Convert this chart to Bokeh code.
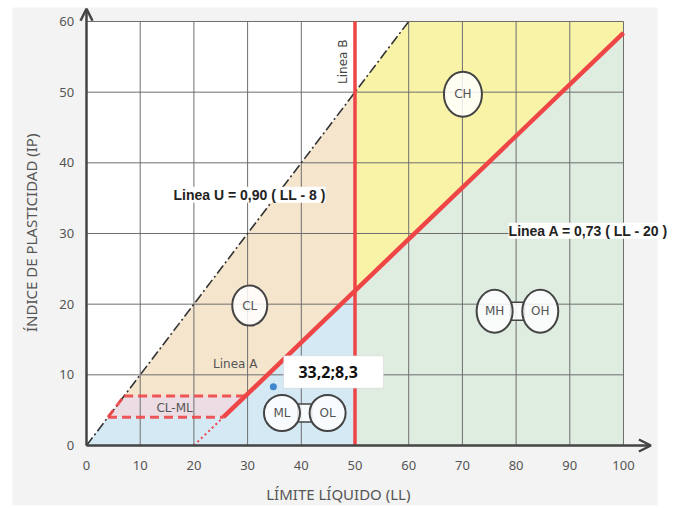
import numpy as np
from bokeh.plotting import figure
from bokeh.models import Range1d, Label, Arrow, OpenHead, BoxAnnotation, ColumnDataSource
from bokeh.embed import file_html
from bokeh.resources import INLINE
from bokeh.core.properties import value

# ---------------- data ----------------
ll_ticks = list(range(0, 101, 10))
ip_ticks = list(range(0, 61, 10))

line_a_slope = 0.73
line_a_offset = 20.0
line_a_end_ll = 100.0
line_u_ll = [0.0, 60.0]      # dash-dot "Linea U" as drawn
line_u_ip = [0.0, 60.0]
line_b_ll = 50.0
clml_ip = [4.0, 7.0]

zone_names = ["CL", "CH", "ML", "OL", "MH", "OH"]
zone_ll = [30.4, 70.1, 36.4, 44.9, 76.0, 84.5]
zone_ip = [19.8, 49.7, 4.6, 4.6, 19.0, 19.0]

point_ll = [34.8]
point_ip = [8.3]
point_text = "33,2;8,3"

text_u = "Linea U = 0,90 ( LL - 8 )"
text_a = "Linea A = 0,73 ( LL - 20 )"
text_b = "Linea B"
text_a_small = "Linea A"
text_clml = "CL-ML"
x_title = "LÍMITE LÍQUIDO (LL)"
y_title = "ÍNDICE DE PLASTICIDAD (IP)"

# ---------------- geometry from the lines ----------------
def a_ip(ll):
    return line_a_slope * (np.asarray(ll, dtype=float) - line_a_offset)

def u_ll_at(ip):
    return float(np.interp(ip, line_u_ip, line_u_ll))

def u_ip_at(ll):
    return float(np.interp(ll, line_u_ll, line_u_ip))

ll_a_lo = line_a_offset + clml_ip[0] / line_a_slope
ll_a_hi = line_a_offset + clml_ip[1] / line_a_slope
a_b = float(a_ip(line_b_ll))
a_end = float(a_ip(line_a_end_ll))
u_lo = u_ll_at(clml_ip[0])
u_hi = u_ll_at(clml_ip[1])
ymax = ip_ticks[-1]
xmax = ll_ticks[-1]

RED = "#ee4646"
GRID = "#6e6e6e"
AX = "#444444"

# the frame covers the whole canvas so that titles, arrows and labels beyond the grid are not clipped
p = figure(width=677, height=508, output_backend="svg", toolbar_location=None,
           x_range=Range1d(-16.015, 110.056), y_range=Range1d(-8.915, 62.97),
           min_border=0)
p.axis.visible = False
p.grid.visible = False
p.outline_line_color = None
p.background_fill_color = "white"
p.border_fill_color = "white"

# light gray sheet behind the chart
p.quad(left=[-13.78], right=[106.33], bottom=[-8.49], top=[61.98], fill_color="#f3f3f3",
       line_color=None, level="image")
# chart area
p.quad(left=[0], right=[xmax], bottom=[0], top=[ymax], fill_color="white", line_color=None, level="image")

# region fills
regions = [
    ("#f6e5cd", [u_hi, line_b_ll, line_b_ll, ll_a_hi], [clml_ip[1], u_ip_at(line_b_ll), a_b, clml_ip[1]]),
    ("#ecdce4", [u_lo, u_hi, ll_a_hi, ll_a_lo], [clml_ip[0], clml_ip[1], clml_ip[1], clml_ip[0]]),
    ("#d5e9f5", [0, u_lo, ll_a_lo, line_b_ll, line_b_ll], [0, clml_ip[0], clml_ip[0], a_b, 0]),
    ("#f9f3a8", [line_b_ll, u_ll_at(ymax), xmax, xmax, line_b_ll], [u_ip_at(line_b_ll), ymax, ymax, a_end, a_b]),
    ("#dfece0", [line_b_ll, line_b_ll, xmax, xmax], [0, a_b, a_end, 0]),
]
p.patches(xs=[r[1] for r in regions], ys=[r[2] for r in regions],
          fill_color=[r[0] for r in regions], line_color=None, level="image")

# grid lines (bounded to the chart)
p.segment(x0=ll_ticks, y0=[0] * len(ll_ticks), x1=ll_ticks, y1=[ymax] * len(ll_ticks),
          line_color=GRID, line_width=1, level="underlay")
p.segment(x0=[0] * len(ip_ticks), y0=ip_ticks, x1=[xmax] * len(ip_ticks), y1=ip_ticks,
          line_color=GRID, line_width=1, level="underlay")

# tick labels
p.text(x=ll_ticks, y=[-2.85] * len(ll_ticks), text=[str(v) for v in ll_ticks],
       text_align="center", text_baseline="middle", text_font=value("Noto Sans"),
       text_font_size="13px", text_color="#555555")
p.text(x=[-2.3] * len(ip_ticks), y=ip_ticks, text=[str(v) for v in ip_ticks],
       text_align="right", text_baseline="middle", text_font=value("Noto Sans"),
       text_font_size="13px", text_color="#555555")

# U line (dash-dot)
p.line(line_u_ll, line_u_ip, line_color="#333333", line_width=1.6, line_dash="10 3 2 3")

# A line: dotted part and solid part
p.line([line_a_offset, ll_a_lo], [0, clml_ip[0]], line_color=RED, line_width=2, line_dash="2 3")
p.line([ll_a_lo, line_a_end_ll], list(a_ip([ll_a_lo, line_a_end_ll])), line_color=RED, line_width=4.5)

# B line
p.line([line_b_ll, line_b_ll], [0, ymax], line_color=RED, line_width=3.5)

# CL-ML dashed box
p.multi_line(xs=[[u_hi, ll_a_hi], [u_lo, ll_a_lo], [u_lo, u_hi]],
             ys=[[clml_ip[1]] * 2, [clml_ip[0]] * 2, [clml_ip[0], clml_ip[1]]],
             line_color=RED, line_width=3, line_dash="9 5", line_alpha=0.9)

# connectors between paired circles
pairs = [(2, 3), (4, 5)]
p.rect(x=[(zone_ll[a] + zone_ll[b]) / 2 for a, b in pairs], y=[zone_ip[a] for a, b in pairs],
       width=14, height=18, width_units="screen", height_units="screen",
       fill_color="white", fill_alpha=0.85, line_color=AX, line_width=1.5)

src = ColumnDataSource(dict(x=zone_ll, y=zone_ip, t=zone_names,
                            w=[35, 38, 36, 36, 36, 36], h=[40, 45, 36, 36, 43, 43]))
p.ellipse(x="x", y="y", width="w", height="h", width_units="screen", height_units="screen",
          source=src, fill_color="white", fill_alpha=0.85, line_color=AX, line_width=2)
p.text(x="x", y="y", text="t", source=src, text_align="center", text_baseline="middle",
       text_font=value("DejaVu Sans"), text_font_size="12px", text_color="#555555")

# small labels
p.text(x=[27.7], y=[11.5], text=[text_a_small], text_align="center", text_baseline="middle",
       text_font=value("DejaVu Sans"), text_font_size="12px", text_color="#555555")
p.text(x=[16.4], y=[5.3], text=[text_clml], text_align="center", text_baseline="middle",
       text_font=value("DejaVu Sans"), text_font_size="12px", text_color="#555555")
p.text(x=[47.7], y=[54.3], text=[text_b], angle=np.pi / 2, text_align="center", text_baseline="middle",
       text_font=value("DejaVu Sans"), text_font_size="12px", text_color="#444444")

# point
p.scatter(point_ll, point_ip, size=7, fill_color="#3f86cc", line_color=None)

# value box
p.add_layout(BoxAnnotation(left=36.7, right=55.3, bottom=8.1, top=12.7, fill_color="white", fill_alpha=1,
                           line_color="#bdbdbd", line_width=1, level="annotation"))
p.add_layout(Label(x=45.0, y=10.4, text=point_text, text_align="center", text_baseline="middle",
                   text_font="Open Sans", text_font_style="bold", text_font_size="16px", text_color="#111111"))

# equation labels
p.add_layout(Label(x=16.2, y=35.5, text=text_u, text_align="left", text_baseline="middle",
                   text_font="Liberation Sans", text_font_style="bold", text_font_size="14px",
                   text_color="#222222", background_fill_color="white", background_fill_alpha=1))
p.add_layout(Label(x=78.6, y=30.4, text=text_a, text_align="left", text_baseline="middle",
                   text_font="Liberation Sans", text_font_style="bold", text_font_size="14px",
                   text_color="#222222", background_fill_color="white", background_fill_alpha=1))

# axis arrows
p.add_layout(Arrow(end=OpenHead(size=12, line_color=AX, line_width=2.5),
                   x_start=0, y_start=0, x_end=105.1, y_end=0, line_color=AX, line_width=2.5))
p.add_layout(Arrow(end=OpenHead(size=12, line_color=AX, line_width=2.5),
                   x_start=0, y_start=0, x_end=0, y_end=61.8, line_color=AX, line_width=2.5))

# axis titles
p.add_layout(Label(x=46.9, y=-6.8, text=x_title, text_align="center", text_baseline="middle",
                   text_font="Noto Sans", text_font_size="15px", text_color="#555555"))
p.add_layout(Label(x=-10.4, y=30.1, text=y_title, angle=np.pi / 2, text_align="center", text_baseline="middle",
                   text_font="Noto Sans", text_font_size="15px", text_color="#555555"))

open("out.html", "w").write(file_html(p, INLINE))
